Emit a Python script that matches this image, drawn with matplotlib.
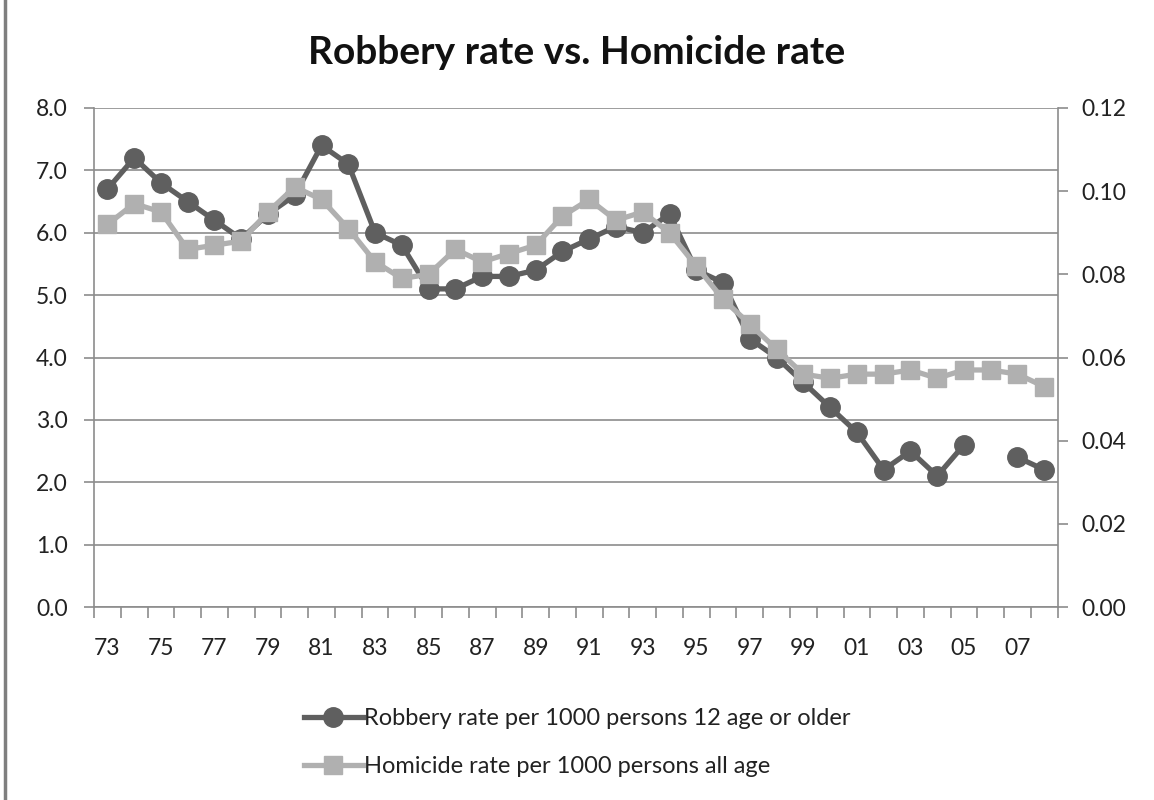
import matplotlib.pyplot as plt
import numpy as np

# Dados
years = ['73', '74', '75', '76', '77', '78', '79', '80', '81', '82', '83', '84',
         '85', '86', '87', '88', '89', '90', '91', '92', '93', '94', '95', '96',
         '97', '98', '99', '00', '01', '02', '03', '04', '05', '06', '07', '08']
robbery = [6.7, 7.2, 6.8, 6.5, 6.2, 5.9, 6.3, 6.6, 7.4, 7.1, 6.0, 5.8,
           5.1, 5.1, 5.3, 5.3, 5.4, 5.7, 5.9, 6.1, 6.0, 6.3, 5.4, 5.2,
           4.3, 4.0, 3.6, 3.2, 2.8, 2.2, 2.5, 2.1, 2.6, None, 2.4, 2.2]
homicide = [0.092, 0.097, 0.095, 0.086, 0.087, 0.088, 0.095, 0.101, 0.098, 0.091, 0.083, 0.079,
            0.080, 0.086, 0.083, 0.085, 0.087, 0.094, 0.098, 0.093, 0.095, 0.090, 0.082, 0.074,
            0.068, 0.062, 0.056, 0.055, 0.056, 0.056, 0.057, 0.055, 0.057, 0.057, 0.056, 0.053]

plt.rcParams['font.family'] = ['Lato', 'DejaVu Sans']

x = np.arange(len(years))
rob = np.array([np.nan if v is None else v for v in robbery])

fig = plt.figure(figsize=(11.54, 8), dpi=100)
ax = fig.add_axes([0.0815, 0.24125, 0.835, 0.62375])
ax2 = ax.twinx()

# Grade e eixos
ax.set_ylim(0, 8)
ax.set_yticks(np.arange(0, 8.1, 1))
ax.set_yticklabels(['%.1f' % v for v in np.arange(0, 8.1, 1)])
ax.grid(axis='y', color='#8c8c8c', linewidth=1.2)
ax.set_axisbelow(True)
ax2.set_ylim(0, 0.12)
ax2.set_yticks(np.arange(0, 0.121, 0.02))
ax2.set_yticklabels(['%.2f' % v for v in np.arange(0, 0.121, 0.02)])

ax.set_xlim(-0.5, len(years) - 0.5)
ax.set_xticks(x[::2])
ax.set_xticklabels(years[::2])
ax.set_xticks(np.arange(-0.5, len(years)), minor=True)
ax.tick_params(axis='x', which='major', length=0, pad=22, labelsize=16.5, colors='#222222')
ax.tick_params(axis='x', which='minor', length=8, width=1.2, color='#8c8c8c')
ax.tick_params(axis='y', length=7, width=1.2, color='#8c8c8c', labelsize=16.5, pad=12, labelcolor='#222222')
ax2.tick_params(axis='y', length=7, width=1.2, color='#8c8c8c', labelsize=16.5, pad=10, labelcolor='#222222')

for a in (ax, ax2):
    for s in a.spines.values():
        s.set_visible(False)
ax.spines['left'].set_visible(True)
ax.spines['bottom'].set_visible(True)
ax2.spines['right'].set_visible(True)
ax.spines['left'].set_color('#8c8c8c')
ax.spines['bottom'].set_color('#8c8c8c')
ax2.spines['right'].set_color('#8c8c8c')
ax.spines['left'].set_linewidth(1.2)
ax.spines['bottom'].set_linewidth(1.2)
ax2.spines['right'].set_linewidth(1.2)

# Curvas (homicídio por cima, como no original)
l1, = ax.plot(x, rob, color='#5f5f5f', linewidth=3.8, marker='o', markersize=14,
              label='Robbery rate per 1000 persons 12 age or older')
l2, = ax2.plot(x, homicide, color='#b0b0b0', linewidth=3.8, marker='s', markersize=13,
               label='Homicide rate per 1000 persons all age')

fig.text(0.5, 0.934, 'Robbery rate vs. Homicide rate', ha='center', va='center',
         fontsize=28, fontweight='bold', color='#111111')

fig.legend([l1, l2], [l1.get_label(), l2.get_label()], loc='center', bbox_to_anchor=(0.5, 0.072),
           frameon=False, fontsize=17, handlelength=2.5, handletextpad=0.05, labelspacing=1.15,
           labelcolor='#222222')

# Moldura do gráfico
fig.add_artist(plt.Rectangle((0.004, -0.01), 1.2, 1.2, transform=fig.transFigure,
                             fill=False, edgecolor='#7f7f7f', linewidth=2.5))

fig.savefig('out.png', dpi=100)
